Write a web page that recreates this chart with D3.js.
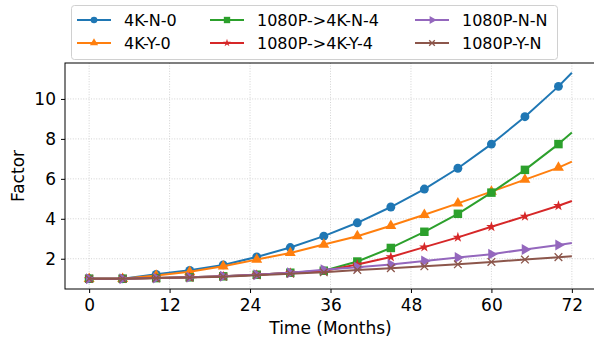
<!DOCTYPE html>
<html>
<head>
<meta charset="utf-8">
<script src="https://cdn.jsdelivr.net/npm/d3@7"></script>
<style>
  body { margin: 0; background: #fff; }
  svg { font-family: "DejaVu Sans", sans-serif; display: block; }
</style>
</head>
<body>
<div class="chart"></div>
<script>
// months with a reading; the last one (72) has no marker
const months = [0, 5, 10, 15, 20, 25, 30, 35, 40, 45, 50, 55, 60, 65, 70, 72];

const names = ['4K-N-0', '4K-Y-0', '1080P->4K-N-4', '1080P->4K-Y-4', '1080P-N-N', '1080P-Y-N'];

const k4N0 = [1.0, 1.0, 1.22, 1.42, 1.69, 2.09, 2.56, 3.13, 3.80, 4.59, 5.49, 6.53, 7.74, 9.11, 10.63, 11.31];
const k4Y0 = [1.0, 1.0, 1.16, 1.35, 1.62, 1.96, 2.29, 2.71, 3.13, 3.65, 4.20, 4.77, 5.36, 5.96, 6.56, 6.86];
const upN4 = [1.0, 1.0, 1.03, 1.07, 1.12, 1.2, 1.3, 1.4, 1.86, 2.54, 3.35, 4.25, 5.31, 6.45, 7.74, 8.32];
const upY4 = [1.0, 1.0, 1.03, 1.07, 1.12, 1.2, 1.3, 1.39, 1.71, 2.09, 2.58, 3.07, 3.60, 4.12, 4.65, 4.89];
const hdNN = [1.0, 1.0, 1.03, 1.07, 1.12, 1.2, 1.3, 1.45, 1.57, 1.71, 1.89, 2.06, 2.23, 2.46, 2.69, 2.79];
const hdYN = [1.0, 1.0, 1.03, 1.06, 1.1, 1.17, 1.25, 1.32, 1.44, 1.53, 1.62, 1.72, 1.84, 1.96, 2.08, 2.12];

const xTicks = [0, 12, 24, 36, 48, 60, 72];
const yTicks = [2, 4, 6, 8, 10];

const colors = ['#1f77b4', '#ff7f0e', '#2ca02c', '#d62728', '#9467bd', '#8c564b'];

const series = [k4N0, k4Y0, upN4, upY4, hdNN, hdYN].map((vals, i) => ({
    name: names[i],
    color: colors[i],
    values: vals.map((v, j) => ({month: months[j], value: v}))
}));

makeChart();

function makeChart() {
    const outerWidth = 594;
    const outerHeight = 341;
    const margin = {top: 63, left: 65, bottom: 52, right: -2};
    const width = outerWidth - margin.left - margin.right;
    const height = outerHeight - margin.top - margin.bottom;

    const svg = d3.select('.chart')
        .append('svg')
        .attr('width', outerWidth)
        .attr('height', outerHeight)
        .append('g')
        .attr('transform', `translate(${margin.left}, ${margin.top})`);

    const xScale = d3.scaleLinear()
        .domain([-3.6, 75.6])
        .range([0, width]);
    const yScale = d3.scaleLinear()
        .domain([0.485, 11.8])
        .range([height, 0]);

    // grid
    svg.append('g')
        .selectAll('line')
        .data(xTicks)
        .join('line')
        .attr('x1', d => xScale(d)).attr('x2', d => xScale(d))
        .attr('y1', 0).attr('y2', height)
        .attr('stroke', '#c8c8c8')
        .attr('stroke-width', 0.8)
        .attr('stroke-dasharray', '1,1.6');
    svg.append('g')
        .selectAll('line')
        .data(yTicks)
        .join('line')
        .attr('x1', 0).attr('x2', width)
        .attr('y1', d => yScale(d)).attr('y2', d => yScale(d))
        .attr('stroke', '#c8c8c8')
        .attr('stroke-width', 0.8)
        .attr('stroke-dasharray', '1,1.6');

    const xAxis = d3.axisBottom(xScale).tickValues(xTicks).tickSize(4).tickPadding(6);
    const yAxis = d3.axisLeft(yScale).tickValues(yTicks).tickSize(4).tickPadding(5);

    svg.append('g')
        .attr('transform', `translate(0, ${height})`)
        .call(xAxis)
        .call(g => g.select('.domain').remove())
        .call(g => g.selectAll('.tick text').attr('font-size', 17).attr('fill', '#000').attr('font-family', 'DejaVu Sans'))
        .call(g => g.selectAll('.tick line').attr('stroke', '#000'));

    svg.append('g')
        .call(yAxis)
        .call(g => g.select('.domain').remove())
        .call(g => g.selectAll('.tick text').attr('font-size', 17).attr('fill', '#000').attr('font-family', 'DejaVu Sans'))
        .call(g => g.selectAll('.tick line').attr('stroke', '#000'));

    // spines
    svg.append('rect')
        .attr('x', 0).attr('y', 0)
        .attr('width', width).attr('height', height)
        .attr('fill', 'none')
        .attr('stroke', '#000')
        .attr('stroke-width', 1);

    svg.append('text')
        .attr('x', xScale(36))
        .attr('y', height + 45)
        .attr('text-anchor', 'middle')
        .attr('font-size', 17)
        .text('Time (Months)');

    svg.append('text')
        .attr('transform', `translate(${-41}, ${height / 2}) rotate(-90)`)
        .attr('text-anchor', 'middle')
        .attr('font-size', 17)
        .text('Factor');

    const line = d3.line()
        .x(d => xScale(d.month))
        .y(d => yScale(d.value));

    series.forEach((s, i) => {
        svg.append('path')
            .datum(s.values)
            .attr('fill', 'none')
            .attr('stroke', s.color)
            .attr('stroke-width', 2)
            .attr('stroke-linejoin', 'round')
            .attr('d', line);

        svg.append('g')
            .selectAll('path')
            .data(s.values.filter(d => d.month % 5 === 0))
            .join('path')
            .attr('transform', d => `translate(${xScale(d.month)}, ${yScale(d.value)})${markerRotate(i)}`)
            .call(marker, i, 1);
    });

    // legend
    const legend = d3.select('svg').append('g');
    legend.append('rect')
        .attr('x', 71.5).attr('y', 5.5)
        .attr('width', 486).attr('height', 54)
        .attr('rx', 3)
        .attr('fill', 'white')
        .attr('fill-opacity', 0.8)
        .attr('stroke', '#d0d0d0');

    const colX = [77, 210, 415];
    const rowY = [20, 43];
    series.forEach((s, i) => {
        const cx = colX[Math.floor(i / 2)];
        const cy = rowY[i % 2];
        const item = legend.append('g').attr('transform', `translate(${cx}, ${cy})`);
        item.append('line')
            .attr('x1', 0).attr('x2', 34)
            .attr('stroke', s.color)
            .attr('stroke-width', 2);
        item.append('path')
            .attr('transform', `translate(17, 0)${markerRotate(i)}`)
            .call(marker, i, 0.75);
        item.append('text')
            .attr('x', 47)
            .attr('y', 6)
            .attr('font-size', 16)
            .text(s.name);
    });
}

function markerRotate(i) {
    return i === 4 ? ' rotate(90)' : '';
}

function marker(sel, i, k) {
    const types = [d3.symbolCircle, d3.symbolTriangle, d3.symbolSquare, d3.symbolStar, d3.symbolTriangle, d3.symbolTimes || d3.symbolX];
    const sizes = [62, 52, 72, 34, 52, 40];
    sel.attr('d', d3.symbol().type(types[i]).size(sizes[i] * k * k));
    if (i === 5) {
        sel.attr('fill', 'none')
            .attr('stroke', colors[i])
            .attr('stroke-width', 1.3);
    } else {
        sel.attr('fill', colors[i]);
    }
}
</script>
</body>
</html>
